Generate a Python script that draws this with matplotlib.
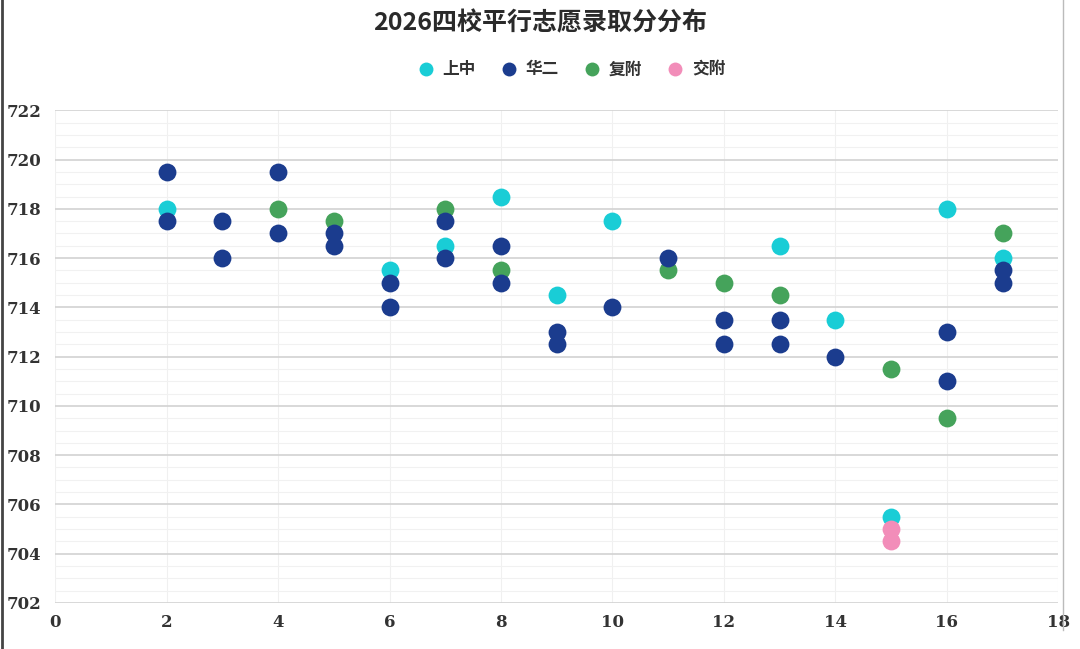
import matplotlib
matplotlib.use("Agg")
import matplotlib.pyplot as plt
from matplotlib.lines import Line2D
from matplotlib.ticker import MultipleLocator

plt.rcParams['font.family'] = ['Noto Sans CJK SC', 'DejaVu Sans']

title = "2026四校平行志愿录取分分布"
series_names = ["上中", "华二", "复附", "交附"]
colors = ["#19CDD6", "#1B3C8E", "#45A35B", "#F28DB9"]

shangzhong_x = [2, 6, 7, 8, 9, 10, 13, 14, 15, 16, 17]
shangzhong_y = [718, 715.5, 716.5, 718.5, 714.5, 717.5, 716.5, 713.5, 705.5, 718, 716]

huaer_x = [2, 2, 3, 3, 4, 4, 5, 5, 6, 6, 7, 7, 8, 8, 9, 9, 10, 11, 12, 12, 13, 13, 14, 16, 16, 17, 17]
huaer_y = [719.5, 717.5, 717.5, 716, 719.5, 717, 717, 716.5, 715, 714, 717.5, 716, 716.5, 715,
           713, 712.5, 714, 716, 713.5, 712.5, 713.5, 712.5, 712, 713, 711, 715.5, 715]

fufu_x = [4, 5, 7, 8, 11, 12, 13, 15, 16, 17]
fufu_y = [718, 717.5, 718, 715.5, 715.5, 715, 714.5, 711.5, 709.5, 717]

jiaofu_x = [15, 15]
jiaofu_y = [705, 704.5]

x_ticks = [0, 2, 4, 6, 8, 10, 12, 14, 16, 18]
y_ticks = [702, 704, 706, 708, 710, 712, 714, 716, 718, 720, 722]

fig = plt.figure(figsize=(10.8, 6.49), dpi=100)
ax = fig.add_axes([0.051, 0.071, 0.929, 0.759])

ms = 165
ax.scatter(shangzhong_x, shangzhong_y, s=ms, color=colors[0], zorder=3, linewidths=0)
ax.scatter(fufu_x, fufu_y, s=ms, color=colors[2], zorder=3, linewidths=0)
ax.scatter(jiaofu_x, jiaofu_y, s=ms, color=colors[3], zorder=3, linewidths=0)
ax.scatter(huaer_x, huaer_y, s=ms, color=colors[1], zorder=4, linewidths=0)

ax.set_xlim(x_ticks[0], x_ticks[-1])
ax.set_ylim(y_ticks[0], y_ticks[-1])
ax.set_xticks(x_ticks)
ax.set_yticks(y_ticks)
ax.yaxis.set_minor_locator(MultipleLocator(0.5))
ax.grid(axis='y', which='major', color='#D2D2D2', linewidth=1.2, zorder=0)
ax.grid(axis='y', which='minor', color='#F1F1F1', linewidth=0.8, zorder=0)
ax.grid(axis='x', which='major', color='#F0F0F0', linewidth=0.8, zorder=0)
for sp in ax.spines.values():
    sp.set_visible(False)
ax.tick_params(axis='both', which='both', length=0)
ax.tick_params(axis='x', pad=8)
ax.tick_params(axis='y', pad=10)
for lab in ax.get_xticklabels() + ax.get_yticklabels():
    lab.set_family(['DejaVu Serif'])
    lab.set_fontweight('bold')
    lab.set_fontsize(12)
    lab.set_color('#333333')

fig.text(0.5, 0.965, title, ha='center', va='center', fontsize=18, fontweight='bold', color='#2A2A2A')

handles = [Line2D([], [], marker='o', linestyle='None', markersize=10, markerfacecolor=c,
                  markeredgewidth=0, label=n) for n, c in zip(series_names, colors)]
leg = fig.legend(handles=handles, loc='center', bbox_to_anchor=(0.525, 0.893), ncol=4, frameon=False,
                 handletextpad=0.0, columnspacing=1.0, prop={'weight': 'bold', 'size': 12})
for t in leg.get_texts():
    t.set_color('#333333')

fig.add_artist(Line2D([0.002, 0.002], [0, 1], transform=fig.transFigure, color='#444444', linewidth=2))
fig.add_artist(Line2D([0.984, 0.984], [0.03, 1], transform=fig.transFigure, color='#BBBBBB', linewidth=1))

fig.savefig("out.png", dpi=100)
